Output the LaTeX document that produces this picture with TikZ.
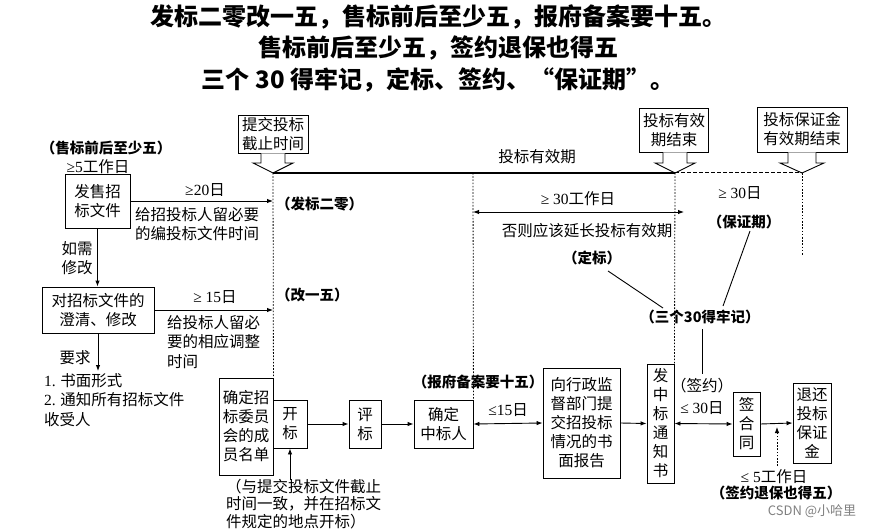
\documentclass[tikz,border=0pt]{standalone}
\usepackage{fontspec}
\setmainfont{Noto Sans CJK SC}
\newfontfamily\lat{Liberation Serif}
\usetikzlibrary{arrows.meta,calc}
\newcommand\myfs[2]{\fontsize{#1}{#2}\selectfont}
\begin{document}
\begin{tikzpicture}[x=1pt,y=-1pt,
  box/.style={draw,line width=0.9pt,align=center,inner sep=0pt,font=\myfs{15.5}{19}},
  txt/.style={align=center,inner sep=0pt,font=\myfs{15.5}{19.5}},
  cal/.style={inner sep=0pt,font=\myfs{14.5}{16}\bfseries},
  arr/.style={line width=0.9pt,-{Latex[length=6pt,width=4.5pt]}},
  darr/.style={line width=0.9pt,{Latex[length=6pt,width=4.5pt]}-{Latex[length=6pt,width=4.5pt]}},
  plain/.style={line width=0.9pt},
  dots/.style={line width=0.8pt,dash pattern=on 1.6pt off 1.6pt},
  dashes/.style={line width=1pt,dash pattern=on 3.5pt off 2.5pt},
  hol/.style={line width=0.9pt,fill=white,line join=miter},
  ttl/.style={font=\myfs{24}{26}\bfseries,inner sep=0pt}]
\useasboundingbox (0,0) rectangle (877,529);

% titles
\node[ttl] (t1) at (438,17) {发标二零改一五，售标前后至少五，报府备案要十五。};
\node[ttl] (t2) at (438,48) {售标前后至少五，签约退保也得五};
\node[ttl] (t3) at (438,80) {三个 30 得牢记，定标、签约、“保证期”。};

% timeline points
\coordinate (T1) at (273,173);
\coordinate (T2) at (675,173);
\coordinate (T3) at (802,173);

% top boxes
\node[box,minimum width=70pt,minimum height=38pt] (submit) at (273,134) {提交投标\\截止时间};
\node[box,minimum width=69pt,minimum height=44pt] (validend) at (674,130) {投标有效\\期结束};
\node[box,minimum width=90pt,minimum height=45pt] (bondend) at (802,129.5) {投标保证金\\有效期结束};

% process boxes
\node[box,minimum width=65pt,minimum height=54pt] (sell) at (97.5,201) {发售招\\标文件};
\node[box,minimum width=112pt,minimum height=46pt] (clar) at (98,310) {对招标文件的\\澄清、修改};
\node[box,minimum width=54pt,minimum height=97pt] (cmte) at (246,426.5) {确定招\\标委员\\会的成\\员名单};
\node[box,minimum width=34pt,minimum height=48pt] (open) at (290,424) {开\\标};
\node[box,minimum width=32pt,minimum height=48pt] (eval) at (365,424) {评\\标};
\node[box,minimum width=59pt,minimum height=48pt] (win) at (443.5,424) {确定\\中标人};
\node[box,minimum width=77pt,minimum height=110pt] (rep) at (581.5,423) {向行政监\\督部门提\\交招投标\\情况的书\\面报告};
\node[box,minimum width=27pt,minimum height=119pt] (notice) at (660.5,423.5) {发\\中\\标\\通\\知\\书};
\node[box,minimum width=27pt,minimum height=64pt] (contract) at (746.5,424) {签\\合\\同};
\node[box,minimum width=38pt,minimum height=80pt] (refund) at (812,423) {退还\\投标\\保证\\金};

% hollow arrows
\draw[hol] ([xshift=-12pt]submit.south) |- ($(T1)+(-20,-10)$) -- (T1) -- ($(T1)+(20,-10)$) -| ([xshift=12pt]submit.south);
\draw[hol] ([xshift=-12pt]validend.south -| T2) |- ($(T2)+(-20,-10)$) -- (T2) -- ($(T2)+(20,-10)$) -| ([xshift=12pt]validend.south -| T2);
\draw[hol] ([xshift=-14pt]bondend.south) |- ($(T3)+(-22,-10)$) -- (T3) -- ($(T3)+(22,-10)$) -| ([xshift=14pt]bondend.south);

% timeline
\draw[line width=1.2pt] (T1) -- (T2);
\draw[dashes] (T2) -- (T3);
\node[txt] (validlbl) at (537,157) {投标有效期};

% dotted verticals
\draw[dots] (T1) -- (cmte.north east);
\coordinate (W1) at (473,173);
\draw[dots] (W1) -- (win.north east);
\draw[dots] (T2) -- (notice.north east);
\coordinate (B1) at (802,255);
\draw[dots] (T3) -- (B1);

% left side
\node[cal] (sellnote) at (106,148) {（售标前后至少五）};
\node[txt] (five) at (98,167) {{\lat ≥5}工作日};
\draw[arr] (sell.east) -- (sell.east -| T1);
\node[txt] (d20) at (205,190) {{\lat ≥20}日};
\node[txt,align=left,anchor=north west] (d20note) at (135,207) {给招投标人留必要\\的编投标文件时间};
\node[cal,anchor=west] (fabiao) at (276,204) {（发标二零）};

\draw[arr] (sell.south) -- (sell.south |- clar.north);
\node[txt] (ifneed) at (77,258) {如需\\修改};

\draw[arr] (clar.east) -- (clar.east -| T1);
\node[txt] (d15) at (215,297) {{\lat ≥ 15}日};
\node[txt,align=left,anchor=north west] (d15note) at (167,315) {给投标人留必\\要的相应调整\\时间};
\node[cal,anchor=west] (gai) at (276,295) {（改一五）};

\coordinate (req) at (98,371);
\draw[arr] (clar.south) -- (req);
\node[txt] (yaoqiu) at (75,358) {要求};
\node[txt,align=left,anchor=north west] (reqlist) at (44,373) {{\lat 1.} 书面形式\\{\lat 2.} 通知所有招标文件\\收受人};

% bottom flow
\draw[arr] (open.east) -- (eval.west);
\draw[arr] (eval.east) -- (win.west);
\coordinate (noteTop) at (290,480);
\draw[arr] (noteTop) -- (open.south);
\node[txt,align=left,anchor=north west,font=\myfs{15.5}{17.5}] (opennote) at (226,479) {（与提交投标文件截止\\时间一致，并在招标文\\件规定的地点开标）};

\node[cal] (baofu) at (478,382) {（报府备案要十五）};
\draw[darr] (win.east) -- (rep.west);
\node[txt] (d15b) at (508,410) {{\lat ≤15}日};
\draw[arr] (rep.east) -- (notice.west);
\draw[darr] (notice.east) -- (contract.west);
\node[txt] (qianyue) at (702,386) {（签约）};
\node[txt] (d30c) at (702,408) {{\lat ≤ 30}日};
\draw[arr] (contract.east) -- (refund.west);
\coordinate (dotA) at (777,466);
\coordinate (dotB) at (777,427);
\draw[dots,-{Latex[length=6pt,width=4.5pt]}] (dotA) -- (dotB);
\node[txt] (d5) at (774,477) {{\lat ≤ 5}工作日};
\node[cal] (tuibao) at (776,493) {（签约退保也得五）};

% 30 day span
\coordinate (S1) at (473,212);
\coordinate (S2) at (684,212);
\draw[darr] (S1) -- (S2);
\node[txt] (d30w) at (578,199) {{\lat ≥ 30}工作日};
\node[txt] (extend) at (587,231) {否则应该延长投标有效期};
\node[cal] (dingbiao) at (592,258) {（定标）};
\node[txt] (d30b) at (740,193) {{\lat ≥ 30}日};
\node[cal] (bzq) at (744,222) {（保证期）};
\node[cal] (san) at (700,317) {（三个30得牢记）};
\coordinate (L1a) at (608,271);
\coordinate (L1b) at (663,308);
\draw[plain] (L1a) -- (L1b);
\coordinate (L2a) at (750,231);
\coordinate (L2b) at (723,306);
\draw[plain] (L2a) -- (L2b);
\coordinate (L3a) at (702,329);
\coordinate (L3b) at (702,374);
\draw[plain] (L3a) -- (L3b);

\node[text=gray,font=\myfs{13}{15}] (csdn) at (812,511) {CSDN @小哈里};
\end{tikzpicture}
\end{document}
